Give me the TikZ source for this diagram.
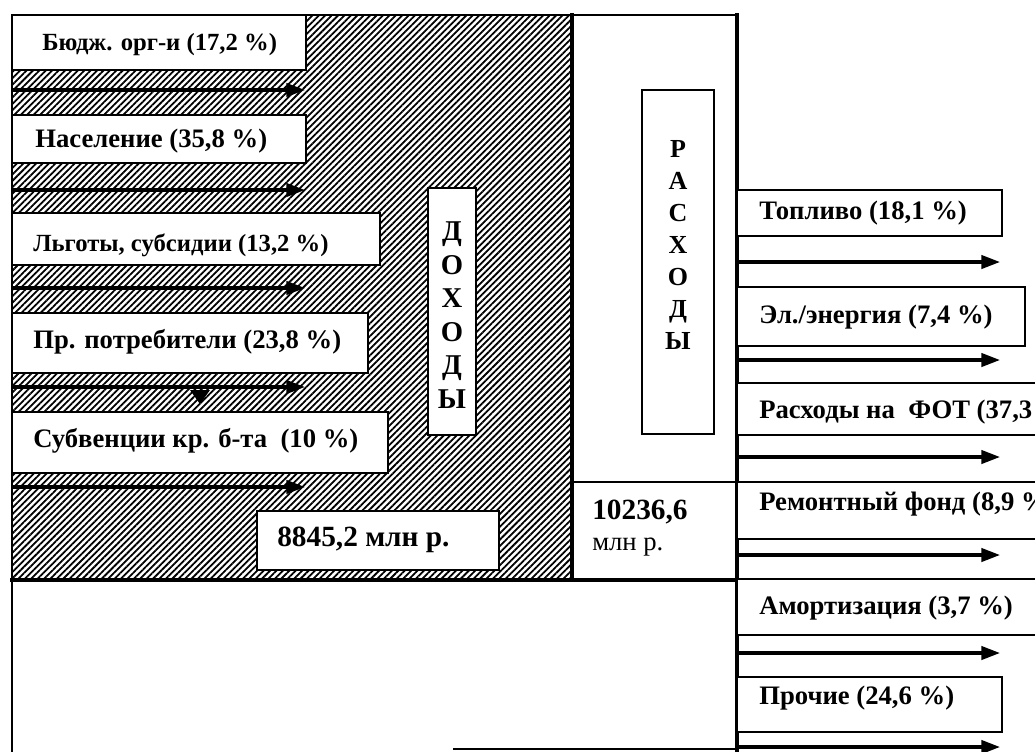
\documentclass[tikz,border=0pt]{standalone}
\usepackage{fontspec}
\setmainfont{Liberation Serif}
\usetikzlibrary{patterns.meta,arrows.meta}
\newcommand\fbig{\fontsize{20}{24}\selectfont\bfseries}
\newcommand\fsml{\fontsize{18.5}{22}\selectfont\bfseries}
\newcommand\mybox[5]{\node[box, minimum width={(#4-#2)*0.75pt}, minimum height={(#5-#3)*0.75pt}] (#1) at ({(#2+#4)/2},{(#3+#5)/2}) {};}
\newcommand\myarrow[4]{\coordinate (#1s) at (#2,#4); \coordinate (#1e) at (#3,#4); \draw[arr] (#1s) -- (#1e);}
\begin{document}
\begin{tikzpicture}[x=0.75pt,y=-0.75pt,
  box/.style={draw, fill=white, line width=1.2pt, inner sep=0pt, outer sep=0pt},
  lbl/.style={anchor=west, inner sep=0pt, font=\fbig},
  arr/.style={line width=2.4pt, -{Triangle[length=14pt,width=10pt]}},
  frame/.style={line width=2pt, line cap=rect}]
\useasboundingbox (0,0) rectangle (1035,751);
\clip (0,0) rectangle (1035,751);
% hatched income area
\fill[pattern={Lines[angle=45,distance=3.4pt,line width=1.35pt]}] (12,15) rectangle (572,580);
% frame lines
\coordinate (tl) at (12,15);
\coordinate (tr) at (737,15);
\coordinate (ml) at (572,15);
\coordinate (mb) at (572,580);
\coordinate (bl) at (12,580);
\coordinate (br) at (737,580);
\coordinate (bottomL) at (12,751);
\coordinate (rb) at (737,751);
\coordinate (c1) at (572,482);
\coordinate (c2) at (737,482);
\coordinate (bb1) at (453,749);
\coordinate (bb2) at (737,749);
\draw[frame] (tl) -- (tr);
\draw[frame] (tl) -- (bottomL);
\draw[frame, line width=2.6pt] (ml) -- (mb);
\draw[frame, line width=2.6pt] (tr) -- (rb);
\draw[frame, line width=2.6pt] (bl) -- (br);
\draw[line width=1.5pt] (c1) -- (c2);
\draw[line width=1.5pt] (bb1) -- (bb2);
% income boxes
\mybox{b1}{12}{15}{306}{70}
\node[lbl, font=\fsml] (t1) at (42,45) {Бюдж. орг-и (17,2 \%)};
\myarrow{a1}{12}{305}{90}
\mybox{b2}{12}{115}{306}{163}
\node[lbl] (t2) at (35,141) {Население (35,8 \%)};
\myarrow{a2}{12}{305}{190}
\mybox{b3}{12}{213}{380}{265}
\node[lbl, font=\fsml] (t3) at (33,245) {Льготы, субсидии (13,2 \%)};
\myarrow{a3}{12}{305}{288}
\mybox{b4}{12}{313}{368}{373}
\node[lbl] (t4) at (33,342) {Пр. потребители (23,8 \%)};
\myarrow{a4}{12}{305}{387}
\fill (190,390) -- (210,390) -- (200,404) -- cycle;
\mybox{b5}{12}{412}{388}{473}
\node[lbl] (t5) at (33,441) {Субвенции кр. б-та \ (10 \%)};
\myarrow{a5}{12}{305}{487}
\mybox{b6}{257}{511}{499}{570}
\node[lbl, font=\fontsize{22}{26}\selectfont\bfseries] (t6) at (277,540) {8845,2 млн р.};
% vertical word boxes
\mybox{dbox}{428}{188}{476}{435}
\node[inner sep=0pt, align=center, font=\fontsize{21.5}{25.1}\selectfont\bfseries] (dtxt) at (452,315) {Д\\О\\Х\\О\\Д\\Ы};
\mybox{rbox}{642}{90}{714}{434}
\node[inner sep=0pt, align=center, font=\fontsize{19.5}{24}\selectfont\bfseries] (rtxt) at (678,245) {Р\\А\\С\\Х\\О\\Д\\Ы};
% total expenses
\node[lbl, font=\fontsize{22}{26}\selectfont\bfseries] (tot) at (592,512) {10236,6};
\node[lbl, font=\fontsize{20}{24}\selectfont] (totu) at (592,547) {млн р.};
% expense boxes
\mybox{r1}{737}{190}{1002}{236}
\node[lbl] (s1) at (759,213) {Топливо (18,1 \%)};
\myarrow{e1}{737}{1000}{262}
\mybox{r2}{737}{287}{1025}{346}
\node[lbl] (s2) at (759,317) {Эл./энергия (7,4 \%)};
\myarrow{e2}{737}{1000}{360}
\mybox{r3}{737}{383}{1045}{435}
\node[lbl] (s3) at (759,412) {Расходы на \ ФОТ (37,3};
\myarrow{e3}{737}{1000}{457}
\mybox{r4}{737}{482}{1045}{539}
\node[lbl] (s4) at (759,504) {Ремонтный фонд (8,9 \%};
\myarrow{e4}{737}{1000}{555}
\mybox{r5}{737}{579}{1045}{635}
\node[lbl] (s5) at (759,608) {Амортизация (3,7 \%)};
\myarrow{e5}{737}{1000}{653}
\mybox{r6}{737}{677}{1002}{732}
\node[lbl] (s6) at (759,698) {Прочие (24,6 \%)};
\myarrow{e6}{737}{1000}{747}
\end{tikzpicture}
\end{document}
